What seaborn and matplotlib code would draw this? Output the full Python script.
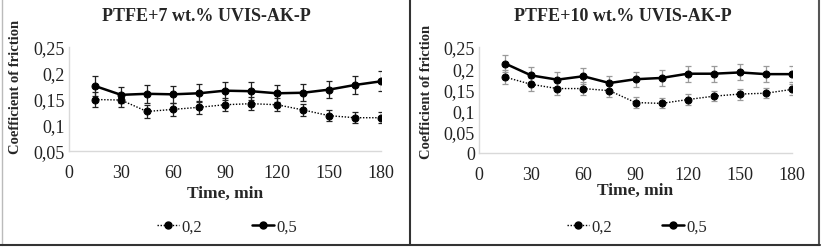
import matplotlib
matplotlib.use("Agg")
import matplotlib.pyplot as plt
import seaborn as sns
import pandas as pd
from matplotlib.lines import Line2D

# ---- data ----
time_min = [15, 30, 45, 60, 75, 90, 105, 120, 135, 150, 165, 180]
series_labels = ["0,2", "0,5"]

p7_load02 = [0.149, 0.148, 0.126, 0.130, 0.134, 0.139, 0.141, 0.139, 0.129, 0.118, 0.114, 0.114]
p7_load05 = [0.175, 0.158, 0.160, 0.159, 0.161, 0.166, 0.165, 0.161, 0.162, 0.168, 0.177, 0.184]
p7_err02 = [0.015, 0.013, 0.012, 0.012, 0.013, 0.013, 0.013, 0.013, 0.012, 0.011, 0.011, 0.011]
p7_err05 = [0.019, 0.016, 0.017, 0.016, 0.017, 0.017, 0.017, 0.016, 0.016, 0.017, 0.018, 0.019]

p10_load02 = [0.179, 0.162, 0.152, 0.152, 0.147, 0.119, 0.117, 0.126, 0.134, 0.139, 0.141, 0.150]
p10_load05 = [0.211, 0.183, 0.173, 0.181, 0.165, 0.174, 0.177, 0.187, 0.187, 0.190, 0.186, 0.186]
p10_err02 = [0.017, 0.015, 0.015, 0.015, 0.014, 0.012, 0.012, 0.012, 0.012, 0.013, 0.012, 0.013]
p10_err05 = [0.021, 0.019, 0.018, 0.019, 0.017, 0.018, 0.018, 0.019, 0.019, 0.019, 0.019, 0.019]

x_ticks = [0, 30, 60, 90, 120, 150, 180]
p7_yticks = [0.05, 0.10, 0.15, 0.20, 0.25]
p7_ylabels = ["0,05", "0,1", "0,15", "0,2", "0,25"]
p10_yticks = [0, 0.05, 0.10, 0.15, 0.20, 0.25]
p10_ylabels = ["0", "0,05", "0,1", "0,15", "0,2", "0,25"]

panels = [
    ("PTFE+7 wt.% UVIS-AK-P", p7_load02, p7_load05, p7_err02, p7_err05, p7_yticks, p7_ylabels, "#222222"),
    ("PTFE+10 wt.% UVIS-AK-P", p10_load02, p10_load05, p10_err02, p10_err05, p10_yticks, p10_ylabels, "#9a9a9a"),
]

sns.set_style("white")
plt.rcParams["font.family"] = ["Liberation Serif", "DejaVu Serif"]

W, H = 824, 251
fig = plt.figure(figsize=(W / 100, H / 100), dpi=100)

# axes boxes in pixels: left, right, top, bottom
boxes = [(69, 381, 48, 152), (479, 792, 48, 154)]
legend_x = [227, 637]
title_x = [206, 623]
ylabel_x = [16, 427]
ylabel_y = [87, 92]
xlabel_y = [194, 191]

dotted = (0, (1, 1.2))

for i, (title, s02, s05, e02, e05, yt, yl, ecol) in enumerate(panels):
    l, r, t, b = boxes[i]
    ax = fig.add_axes([l / W, 1 - b / H, (r - l) / W, (b - t) / H])
    df = pd.DataFrame({"time": time_min * 2,
                       "cof": s02 + s05,
                       "load": [series_labels[0]] * 12 + [series_labels[1]] * 12})
    ax.errorbar(time_min, s02, yerr=e02, fmt="none", ecolor=ecol, elinewidth=0.9, capsize=2, capthick=0.9)
    ax.errorbar(time_min, s05, yerr=e05, fmt="none", ecolor=ecol, elinewidth=0.9, capsize=2, capthick=0.9)
    sns.lineplot(data=df[df["load"] == series_labels[0]], x="time", y="cof", ax=ax,
                 color="black", linestyle=dotted, linewidth=1.0, marker="o",
                 markersize=5, markeredgecolor="black", legend=False)
    sns.lineplot(data=df[df["load"] == series_labels[1]], x="time", y="cof", ax=ax,
                 color="black", linestyle="-", linewidth=1.8, marker="o",
                 markersize=5, markeredgecolor="black", legend=False)

    ax.set_xlim(0, 180)
    ax.set_ylim(yt[0], yt[-1])
    ax.set_xticks(x_ticks)
    ax.set_xticklabels([str(v) for v in x_ticks])
    ax.set_yticks(yt)
    ax.set_yticklabels(yl)
    ax.tick_params(axis="y", length=0, labelsize=13, colors="#222222", pad=3)
    ax.tick_params(axis="x", length=0, labelsize=13, colors="#222222", pad=9)
    for side in ["top", "right"]:
        ax.spines[side].set_visible(False)
    for side in ["left", "bottom"]:
        ax.spines[side].set_color("#d9d9d9")
        ax.spines[side].set_linewidth(1.0)
    ax.set_xlabel("Time, min", fontsize=12.5, fontweight="bold")
    ax.set_ylabel("Coefficient of friction", fontsize=10.5, fontweight="bold")
    ax.yaxis.set_label_coords((ylabel_x[i] - l) / (r - l), (b - ylabel_y[i]) / (b - t))
    ax.xaxis.set_label_coords(0.5, (b - xlabel_y[i]) / (b - t))
    ax.xaxis.label.set_va("center")
    ax.yaxis.label.set_va("center")

    fig.text(title_x[i] / W, 1 - 17 / H, title, ha="center", va="center",
             fontsize=13, fontweight="bold")

    handles = [
        Line2D([], [], color="black", linestyle=dotted, linewidth=1.0, marker="o", markersize=5),
        Line2D([], [], color="black", linestyle="-", linewidth=1.8, marker="o", markersize=5),
    ]
    fig.legend(handles, series_labels, loc="center", bbox_to_anchor=(legend_x[i] / W, 1 - 228 / H),
               ncol=2, frameon=False, fontsize=12, handlelength=1.3, handletextpad=0.15,
               columnspacing=3.0)

# panel frames
fig.add_artist(Line2D([1.5 / W, 1.5 / W], [1 - 246 / H, 1], color="#bbbbbb", lw=1.0))
fig.add_artist(Line2D([410 / W, 410 / W], [1 - 246 / H, 1], color="#333333", lw=1.5))
fig.add_artist(Line2D([819 / W, 819 / W], [1 - 246 / H, 1], color="#555555", lw=1.5))
fig.add_artist(Line2D([0, 820 / W], [1 - 246 / H, 1 - 246 / H], color="#333333", lw=1.5))

fig.savefig("out.png", dpi=100)
